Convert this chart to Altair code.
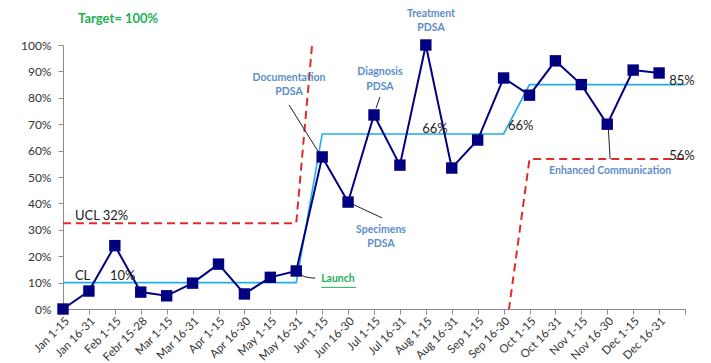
import json
import altair as alt
import pandas as pd

# ---------------- data ----------------
periods = ["Jan 1-15", "Jan 16-31", "Feb 1-15", "Febr 15-28", "Mar 1-15", "Mar 16-31",
           "Apr 1-15", "Apr 16-30", "May 1-15", "May 16-31", "Jun 1-15", "Jun 16-30",
           "Jul 1-15", "Jul 16-31", "Aug 1-15", "Aug 16-31", "Sep 1-15", "Sep 16-30",
           "Oct 1-15", "Oct 16-31", "Nov 1-15", "Nov 16-30", "Dec 1-15", "Dec 16-31"]
rate = [0, 6.8, 24, 6.4, 5, 9.8, 17, 5.7, 12, 14.4, 57.6, 40.5,
        73.5, 54.5, 100, 53.4, 64, 87.5, 81, 94, 85, 70, 90.5, 89.4]

# control chart lines (25 slots: one extra slot after Dec 16-31)
cl = [10, 10, 10, 10, 10, 10, 10, 10, 10, 10,
      66.3, 66.3, 66.3, 66.3, 66.3, 66.3, 66.3, 66.3,
      85, 85, 85, 85, 85, 85, 85]
ucl = [32.5, 32.5, 32.5, 32.5, 32.5, 32.5, 32.5, 32.5, 32.5, 32.5,
       143, None, None, None, None, None, None, -15,
       56.8, 56.8, 56.8, 56.8, 56.8, 56.8, 56.8]

y_ticks = [0, 10, 20, 30, 40, 50, 60, 70, 80, 90, 100]

# annotations
blue_text = ["Documentation", "PDSA", "Diagnosis", "PDSA", "Treatment", "PDSA",
             "Specimens", "PDSA", "Enhanced Communication"]
blue_x = [8.72, 8.72, 12.23, 12.23, 14.2, 14.2, 12.27, 12.27, 21.11]
blue_y = [87.5, 82.2, 89.8, 84.1, 111.7, 106.4, 29.9, 24.6, 52.3]

black_text = ["UCL 32%", "CL", "10%", "66%", "66%", "85%", "56%"]
black_x = [0.46, 0.46, 1.81, 13.86, 17.17, 23.39, 23.39]
black_y = [35.2, 12.5, 12.5, 68.2, 69.3, 86.4, 58]

target_text = ["Target= 100%"]
target_x = [0.58]
target_y = [109.8]

launch_text = ["Launch"]
launch_x = [9.96]
launch_y = [11.4]
launch_ul_x2 = [11.31]
launch_ul_y = [8.2]

leader_grp = [1, 1, 2, 2, 3, 3, 4, 4, 4, 5, 5]
leader_x = [8.72, 9.88, 12.23, 12.08, 11.0, 12.31, 9.07, 9.38, 9.73, 21.03, 21.11]
leader_y = [77.3, 59.1, 80.3, 76.1, 40.5, 34.5, 13.6, 12.1, 11.7, 70.5, 56.8]

# ---------------- tables ----------------
slots = list(range(25))
main_df = pd.DataFrame({"idx": list(range(len(periods))), "v": rate})
cl_df = pd.DataFrame({"idx": slots, "v": cl})

seg, cur, prev_none = [], 0, False
for u in ucl:
    if u is None:
        prev_none = True
        seg.append(None)
    else:
        if prev_none:
            cur += 1
            prev_none = False
        seg.append(cur)
ucl_df = pd.DataFrame({"idx": slots, "v": ucl, "seg": seg}).dropna()

blue_df = pd.DataFrame({"idx": blue_x, "v": blue_y, "t": blue_text})
black_df = pd.DataFrame({"idx": black_x, "v": black_y, "t": black_text})
target_df = pd.DataFrame({"idx": target_x, "v": target_y, "t": target_text})
launch_df = pd.DataFrame({"idx": launch_x, "v": launch_y, "t": launch_text,
                          "x2": launch_ul_x2, "uy": launch_ul_y})
leader_df = pd.DataFrame({"idx": leader_x, "v": leader_y, "g": leader_grp,
                          "o": list(range(len(leader_x)))})

FONT = "Lato"
labels_js = json.dumps(periods + [""])

xscale = alt.Scale(domain=[0, 24], nice=False, zero=False)
yscale = alt.Scale(domain=[0, 100], nice=False)

x_axis = alt.Axis(values=slots, labelExpr=f"{labels_js}[datum.value]",
                  labelAngle=-45, labelAlign="right", labelBaseline="top",
                  labelFontSize=11.5, labelFont=FONT, labelColor="#333333",
                  labelPadding=1, tickSize=5, tickColor="#8c8c8c",
                  domainColor="#8c8c8c", grid=False, title=None, labelOverlap=False)
y_axis = alt.Axis(values=y_ticks, labelExpr="datum.value + '%'",
                  labelFontSize=12, labelFont=FONT, labelColor="#333333",
                  labelPadding=7, tickSize=5, tickColor="#8c8c8c",
                  domainColor="#8c8c8c", grid=False, title=None)

X = alt.X("idx:Q", scale=xscale, axis=x_axis)
Y = alt.Y("v:Q", scale=yscale, axis=y_axis)

ucl_layer = alt.Chart(ucl_df).mark_line(color="#E02B2B", strokeWidth=2,
                                        strokeDash=[8, 5], clip=True).encode(
    x=X, y=Y, detail="seg:N")

cl_layer = alt.Chart(cl_df).mark_line(color="#1FAEE6", strokeWidth=1.6).encode(x=X, y=Y)

leader_layer = alt.Chart(leader_df).mark_line(color="#222222", strokeWidth=1,
                                              interpolate="monotone").encode(
    x=X, y=Y, detail="g:N", order="o:Q")

rate_line = alt.Chart(main_df).mark_line(color="#000080", strokeWidth=2).encode(x=X, y=Y)
rate_pts = alt.Chart(main_df).mark_point(shape="square", filled=True, size=130,
                                         color="#000080", opacity=1).encode(x=X, y=Y)

blue_layer = alt.Chart(blue_df).mark_text(font=FONT, fontSize=10.5, fontWeight="bold",
                                          color="#5B8DC9", align="center",
                                          baseline="middle", clip=False).encode(
    x=X, y=Y, text="t:N")

black_layer = alt.Chart(black_df).mark_text(font=FONT, fontSize=13, color="#222222",
                                            align="left", baseline="middle",
                                            clip=False).encode(x=X, y=Y, text="t:N")

target_layer = alt.Chart(target_df).mark_text(font=FONT, fontSize=13, fontWeight="bold",
                                              color="#1DB054", align="left",
                                              baseline="middle", clip=False).encode(
    x=X, y=Y, text="t:N")

launch_layer = alt.Chart(launch_df).mark_text(font=FONT, fontSize=10.5, fontWeight="bold",
                                              color="#1DB054", align="left",
                                              baseline="middle").encode(x=X, y=Y, text="t:N")
launch_ul = alt.Chart(launch_df).mark_rule(color="#1DB054", strokeWidth=1).encode(
    x=X, x2="x2:Q", y=alt.Y("uy:Q", scale=yscale, axis=y_axis))

chart = alt.layer(
    ucl_layer, cl_layer, leader_layer, rate_line, rate_pts,
    blue_layer, black_layer, target_layer, launch_layer, launch_ul
).properties(
    width=622, height=264,
    autosize=alt.AutoSizeParams(type="none"),
    padding={"left": 63, "top": 45, "right": 26, "bottom": 54},
    background="white"
).configure_view(stroke=None)

chart.save("out.html", embed_options={"renderer": "svg", "actions": False})
